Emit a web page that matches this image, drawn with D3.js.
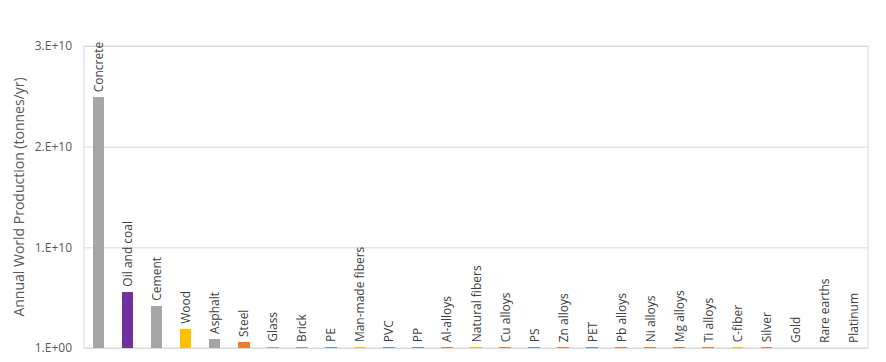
<!DOCTYPE html>
<html>
<head>
<meta charset="utf-8">
<script src="https://cdn.jsdelivr.net/npm/d3@7"></script>
<style>
    body { margin: 0; background: #fff; }
    .grid line { stroke: #d9d9d9; }
    .grid path { display: none; }
    .y.axis path, .y.axis line { display: none; }
    .y.axis text { fill: #595959; font-family: "Open Sans", sans-serif; font-size: 12px; }
    .barlabel { fill: #404040; font-family: "Open Sans", sans-serif; font-size: 12px; }
    .ytitle { fill: #595959; font-family: "Open Sans", sans-serif; font-size: 14px; }
    .bar { shape-rendering: crispEdges; }
</style>
</head>
<body>
<svg id="chart" width="886" height="362"></svg>
<script>
// Materialer og årlig produksjon (tonn/år)
var materials = ["Concrete", "Oil and coal", "Cement", "Wood", "Asphalt", "Steel", "Glass", "Brick", "PE",
    "Man-made fibers", "PVC", "PP", "Al-alloys", "Natural fibers", "Cu alloys", "PS", "Zn alloys", "PET",
    "Pb alloys", "Ni alloys", "Mg alloys", "Ti alloys", "C-fiber", "Silver", "Gold", "Rare earths", "Platinum"];
var production = [2.49e10, 5.6e9, 4.2e9, 1.9e9, 9.0e8, 6.0e8, 1.2e8, 1.1e8, 1.0e8,
    9.0e7, 8.0e7, 8.0e7, 8.0e7, 8.0e7, 7.0e7, 7.0e7, 7.0e7, 7.0e7,
    7.0e7, 7.0e7, 7.0e7, 7.0e7, 7.0e7, 7.0e7, 3.0e3, 1.2e5, 2.0e2];
var materialClass = ["mineral", "fuel", "mineral", "natural", "mineral", "metal", "mineral", "mineral", "polymer",
    "natural", "polymer", "polymer", "metal", "natural", "metal", "polymer", "metal", "polymer",
    "metal", "metal", "metal", "metal", "natural", "metal", "metal", "metal", "metal"];
var yTicks = [0, 1e10, 2e10, 3e10];
var yTickLabels = ["1.E+00", "1.E+10", "2.E+10", "3.E+10"];

var data = materials.map(function (m, i) {
    return { name: m, value: production[i], cls: materialClass[i] };
});

var margin = { top: 46, right: 18, bottom: 14, left: 84 };
var width = 886 - margin.left - margin.right;
var height = 362 - margin.top - margin.bottom;

var svg = d3.select("#chart").append("g")
    .attr("transform", "translate(" + margin.left + "," + margin.top + ")");

var x = d3.scaleBand().domain(materials).range([0, width]).paddingInner(0.6).paddingOuter(0.3);
var y = d3.scaleLinear().domain([0, 3e10]).range([height, 0]);
var color = d3.scaleOrdinal()
    .domain(["mineral", "fuel", "natural", "metal", "polymer"])
    .range(["#a5a5a5", "#7030a0", "#ffc000", "#ed7d31", "#5b9bd5"]);

// Rutenett
svg.append("g").attr("class", "grid")
    .call(d3.axisLeft(y).tickValues(yTicks).tickSize(-width).tickFormat(""));

// Ramme rundt plottområdet
svg.append("rect")
    .attr("width", width).attr("height", height)
    .attr("fill", "none").attr("stroke", "#d9d9d9");

svg.append("g").attr("class", "y axis")
    .call(d3.axisLeft(y).tickValues(yTicks).tickSize(0).tickPadding(12)
        .tickFormat(function (d, i) { return yTickLabels[i]; }));

svg.append("text").attr("class", "ytitle")
    .attr("transform", "translate(" + (20 - margin.left) + "," + (height / 2) + ") rotate(-90)")
    .attr("text-anchor", "middle").attr("dominant-baseline", "middle")
    .text("Annual World Production (tonnes/yr)");

svg.selectAll(".bar")
    .data(data)
    .enter().append("rect")
    .attr("class", "bar")
    .attr("x", function (d) { return x(d.name); })
    .attr("width", x.bandwidth())
    .attr("y", function (d) { return y(d.value); })
    .attr("height", function (d) { return height - y(d.value); })
    .attr("fill", function (d) { return color(d.cls); });

svg.selectAll(".barlabel")
    .data(data)
    .enter().append("text")
    .attr("class", "barlabel")
    .attr("transform", function (d) {
        return "translate(" + (x(d.name) + x.bandwidth() / 2) + "," + (y(d.value) - 5) + ") rotate(-90)";
    })
    .attr("dominant-baseline", "central")
    .text(function (d) { return d.name; });
</script>
</body>
</html>
